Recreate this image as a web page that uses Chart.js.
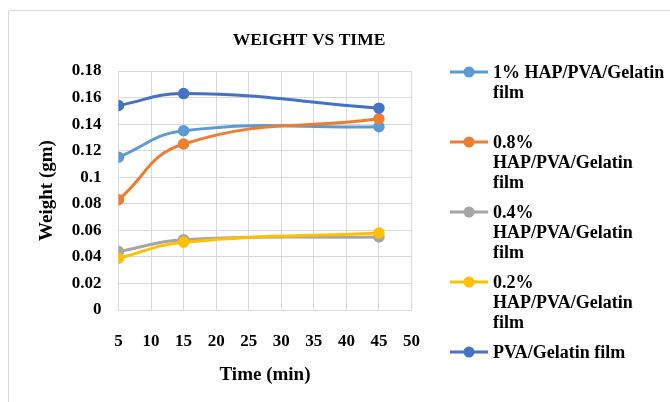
<!DOCTYPE html>
<html>
<head>
<meta charset="utf-8">
<script src="https://cdn.jsdelivr.net/npm/chart.js@4"></script>
<style>
  html, body { margin: 0; padding: 0; background: #fff; }
  #wrap { width: 670px; height: 402px; position: relative; }
</style>
</head>
<body>
<div id="wrap"><canvas id="c" width="670" height="402"></canvas></div>
<script>
const chartTitle = 'WEIGHT VS TIME';
const xTitle = 'Time (min)';
const yTitle = 'Weight (gm)';
const times = [5, 15, 45];
const seriesNames = [
  '1% HAP/PVA/Gelatin film',
  '0.8% HAP/PVA/Gelatin film',
  '0.4% HAP/PVA/Gelatin film',
  '0.2% HAP/PVA/Gelatin film',
  'PVA/Gelatin film'
];
const legendLines = [
  ['1% HAP/PVA/Gelatin', 'film'],
  ['0.8%', 'HAP/PVA/Gelatin', 'film'],
  ['0.4%', 'HAP/PVA/Gelatin', 'film'],
  ['0.2%', 'HAP/PVA/Gelatin', 'film'],
  ['PVA/Gelatin film']
];
const hap1 = [0.115, 0.135, 0.138];
const hap08 = [0.083, 0.125, 0.144];
const hap04 = [0.044, 0.053, 0.055];
const hap02 = [0.039, 0.051, 0.058];
const pvaGel = [0.154, 0.163, 0.152];
const seriesValues = [hap1, hap08, hap04, hap02, pvaGel];
const colors = ['#5B9BD5', '#ED7D31', '#A5A5A5', '#FFC000', '#4472C4'];

const FONT = "'Liberation Serif', 'Times New Roman', serif";

const datasets = seriesValues.map((vals, i) => ({
  label: seriesNames[i],
  data: vals.map((v, j) => ({ x: times[j], y: v })),
  borderColor: colors[i],
  backgroundColor: colors[i],
  pointBackgroundColor: colors[i],
  pointBorderColor: colors[i],
  pointRadius: 5,
  pointBorderWidth: 1.5,
  borderWidth: 3,
  tension: 0.45,
  fill: false,
  order: seriesValues.length - i
}));

const decor = {
  id: 'decor',
  beforeDraw(chart) {
    const ctx = chart.ctx;
    ctx.save();
    ctx.fillStyle = '#fff';
    ctx.fillRect(0, 0, chart.width, chart.height);
    ctx.strokeStyle = '#D9D9D9';
    ctx.lineWidth = 1;
    ctx.beginPath();
    ctx.moveTo(8.5, chart.height);
    ctx.lineTo(8.5, 10.5);
    ctx.lineTo(chart.width, 10.5);
    ctx.stroke();
    ctx.restore();
  },
  afterDraw(chart) {
    const ctx = chart.ctx;
    ctx.save();
    // title
    ctx.fillStyle = '#000';
    ctx.font = 'bold 17.5px ' + FONT;
    ctx.textAlign = 'center';
    ctx.textBaseline = 'middle';
    ctx.fillText(chartTitle, 309, 40);
    // legend
    ctx.font = 'bold 18px ' + FONT;
    ctx.textAlign = 'left';
    legendLines.forEach((lines, i) => {
      const y0 = 72 + i * 70;
      ctx.strokeStyle = colors[i];
      ctx.lineWidth = 3;
      ctx.beginPath();
      ctx.moveTo(450, y0);
      ctx.lineTo(488, y0);
      ctx.stroke();
      ctx.fillStyle = colors[i];
      ctx.beginPath();
      ctx.arc(469, y0, 5.5, 0, Math.PI * 2);
      ctx.fill();
      ctx.fillStyle = '#000';
      lines.forEach((t, k) => ctx.fillText(t, 493, y0 + k * 20 + 1));
    });
    ctx.restore();
  }
};

new Chart(document.getElementById('c'), {
  type: 'line',
  data: { datasets },
  options: {
    responsive: false,
    animation: false,
    devicePixelRatio: 1,
    layout: { padding: { top: 71, right: 258.5, left: 9, bottom: 0 } },
    plugins: {
      legend: { display: false },
      title: { display: false },
      tooltip: { enabled: false }
    },
    scales: {
      x: {
        type: 'linear',
        min: 5, max: 50,
        afterFit(s) { s.height = 92; },
        ticks: {
          stepSize: 5,
          color: '#000',
          padding: 21,
          font: { family: FONT, size: 17, weight: 'bold' }
        },
        grid: { color: '#D9D9D9', lineWidth: 1, drawTicks: false },
        border: { color: '#D9D9D9', width: 1 },
        title: {
          display: true, text: xTitle, color: '#000',
          font: { family: FONT, size: 19, weight: 'bold' },
          padding: { top: 0, bottom: 16 }
        }
      },
      y: {
        type: 'linear',
        min: 0, max: 0.18,
        afterFit(s) { s.width = 109.5; },
        ticks: {
          stepSize: 0.02,
          color: '#000',
          padding: 17,
          font: { family: FONT, size: 17, weight: 'bold' },
          callback: v => String(parseFloat(Number(v).toFixed(2)))
        },
        grid: { color: '#D9D9D9', lineWidth: 1, drawTicks: false },
        border: { display: false },
        title: {
          display: true, text: yTitle, color: '#000',
          font: { family: FONT, size: 19, weight: 'bold' },
          padding: { top: 27, bottom: 0 }
        }
      }
    }
  },
  plugins: [decor]
});
</script>
</body>
</html>
